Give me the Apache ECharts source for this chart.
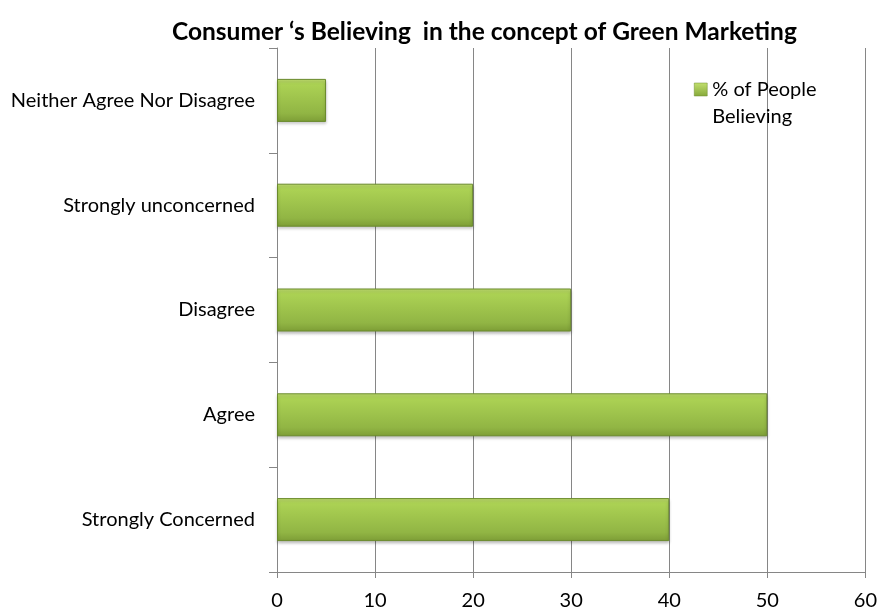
<!DOCTYPE html>
<html>
<head>
<meta charset="utf-8">
<script src="https://cdn.jsdelivr.net/npm/echarts@6/dist/echarts.min.js"></script>
<style>html,body{margin:0;padding:0;background:#fff}#c{width:880px;height:613px}</style>
</head>
<body>
<div id="c"></div>
<script>
var categories = ["Neither Agree Nor Disagree", "Strongly unconcerned", "Disagree", "Agree", "Strongly Concerned"];
var values = [5, 20, 30, 50, 40];
var seriesName = "% of People Believing";
var legendLines = ["% of People", "Believing"];
var titleText = "Consumer \u2018s Believing  in the concept of Green Marketing";

var chart = echarts.init(document.getElementById('c'));
chart.setOption({
  animation: false,
  backgroundColor: '#ffffff',
  textStyle: { fontFamily: 'Lato, "Open Sans", sans-serif' },
  title: {
    text: titleText,
    left: 172, top: 20, padding: 0,
    textStyle: { fontFamily: 'Lato, sans-serif', fontWeight: 'bold', fontSize: 24.5, color: '#000' }
  },
  legend: {
    left: 694, top: 49, padding: 0,
    orient: 'vertical',
    itemWidth: 13, itemHeight: 13,
    icon: 'rect',
    formatter: function () { return ' \n' + legendLines.join('\n'); },
    textStyle: { fontSize: 20, color: '#000', lineHeight: 27 },
    data: [{ name: seriesName, itemStyle: {
      color: new echarts.graphic.LinearGradient(0, 0, 0, 1, [
        { offset: 0, color: '#c2e06e' }, { offset: 1, color: '#86a83a' }]),
      borderColor: '#6f8c30', borderWidth: 0.5 } }]
  },
  grid: { left: 277, right: 13, top: 48, bottom: 41 },
  xAxis: {
    type: 'value', min: 0, max: 60, interval: 10,
    axisLine: { show: true, lineStyle: { color: '#868686' } },
    axisTick: { show: true, length: 6, lineStyle: { color: '#868686' } },
    splitLine: { show: true, lineStyle: { color: '#868686' } },
    axisLabel: { fontSize: 20, color: '#000', margin: 19 }
  },
  yAxis: {
    type: 'category', data: categories, inverse: true,
    axisLine: { show: true, lineStyle: { color: '#868686' } },
    axisTick: { show: true, length: 8, lineStyle: { color: '#868686' } },
    axisLabel: { fontSize: 20, color: '#000', margin: 22 }
  },
  series: [{
    name: seriesName, type: 'bar', data: values,
    barWidth: 43,
    itemStyle: {
      color: new echarts.graphic.LinearGradient(0, 0, 0, 1, [
        { offset: 0, color: '#c4e272' },
        { offset: 0.12, color: '#acd254' },
        { offset: 0.8, color: '#91b544' },
        { offset: 1, color: '#7d9d36' }
      ]),
      borderColor: '#6a8a2c', borderWidth: 1,
      shadowColor: 'rgba(0,0,0,0.25)', shadowBlur: 3, shadowOffsetY: 2
    }
  }]
});
</script>
</body>
</html>
